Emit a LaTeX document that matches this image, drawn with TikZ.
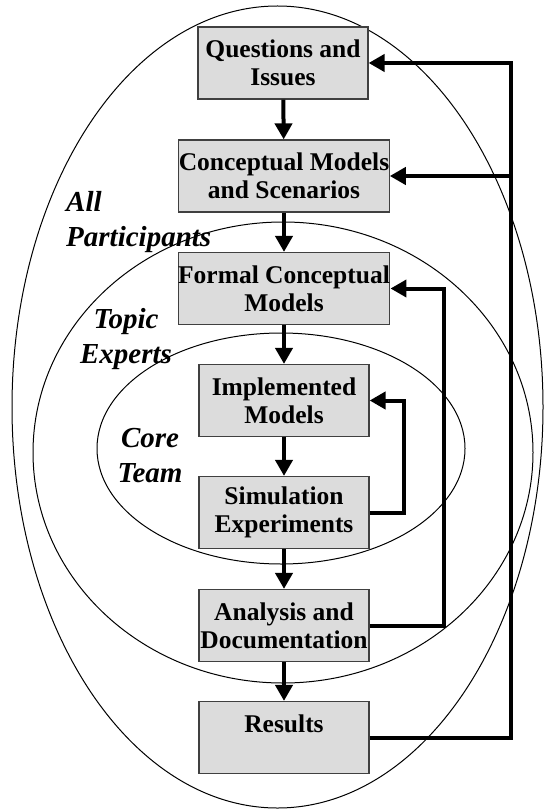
\documentclass[tikz,border=0pt]{standalone}
\usepackage{fontspec}
\setmainfont{Liberation Serif}
\usepackage{xcolor}
\usetikzlibrary{arrows.meta}
\definecolor{boxgray}{HTML}{DCDCDC}
\definecolor{edgegray}{HTML}{404040}
\begin{document}
\begin{tikzpicture}[x=1pt,y=-1pt,
  stage/.style={draw=edgegray,line width=1.2pt,fill=boxgray,minimum width=170pt,minimum height=72pt,
    inner sep=0pt,align=center,font=\fontsize{25.5}{28}\selectfont\bfseries},
  group/.style={inner sep=0pt,font=\fontsize{29}{35}\selectfont\bfseries\itshape},
  flow/.style={line width=4pt,-{Triangle[length=16pt,width=17pt]}}]
\useasboundingbox (0,0) rectangle (544,810);
% the three circles of people
\draw[line width=1pt] (277.5,407) ellipse [x radius=265.5, y radius=401];
\draw[line width=1pt] (283,452.5) ellipse [x radius=250, y radius=230.5];
\draw[line width=1pt] (281,448.5) ellipse [x radius=184, y radius=115.5];
\node[group,anchor=west,align=left] (all) at (66,222) {All\\Participants};
\node[group,align=center] (topic) at (126,339) {Topic\\Experts};
\node[group,align=center] (core) at (150,456) {Core\\Team};
% the stages, edit here for the texts
\node[stage] (quest) at (283,63) {Questions and\\Issues};
\node[stage,minimum width=210pt] (concept) at (284,176) {Conceptual Models\\and Scenarios};
\node[stage,minimum width=210pt] (formal) at (284,288.5) {Formal Conceptual\\Models};
\node[stage] (impl) at (284,400.5) {Implemented\\Models};
\node[stage] (sim) at (284,512.5) {Simulation\\Experiments};
\node[stage] (ana) at (284,625.5) {Analysis and\\Documentation};
\node[stage] (res) at (284,737.5) {Results\\~};
\foreach \a/\b in {quest/concept,concept/formal,formal/impl,impl/sim,sim/ana,ana/res}
\draw[flow] (\a) -- (\b);
% loops back
\draw[flow] (sim.east) -- ++(34,0) |- (impl.east);
\draw[flow] (ana.east) -- ++(74,0) |- (formal.east);
\draw[flow] (res.east) -- ++(141,0) coordinate (back) |- (quest.east);
\draw[flow] (back |- concept.east) -- (concept.east);
\end{tikzpicture}
\end{document}
